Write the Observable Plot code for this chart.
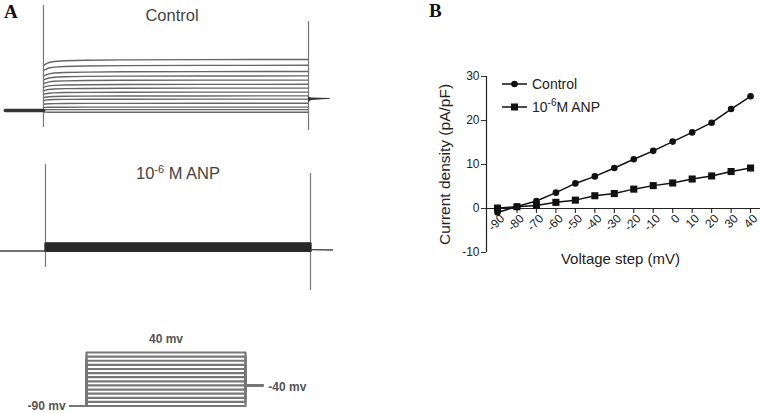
<!DOCTYPE html>
<html><head><meta charset="utf-8">
<script src="https://cdn.jsdelivr.net/npm/d3@7"></script>
<script src="https://cdn.jsdelivr.net/npm/@observablehq/plot@0.6"></script>
<style>
body{margin:0;background:#fff;}
#fig{position:relative;width:762px;height:413px;overflow:hidden;font-family:"Liberation Sans",Arial,sans-serif;color:#333;background:#fff;}
#fig svg{display:block;}
.lbl{position:absolute;white-space:nowrap;}
#fig g[aria-label="y-axis label"] text{font-size:15.5px;fill:#222;}
</style></head><body><div id="fig"></div>
<script>
// ---------- data ----------
const voltages = [-90,-80,-70,-60,-50,-40,-30,-20,-10,0,10,20,30,40];          // mV
const controlDensity = [-0.9,0.45,1.7,3.6,5.7,7.3,9.2,11.2,13.1,15.2,17.3,19.5,22.6,25.5]; // pA/pF
const anpDensity = [0.1,0.4,0.7,1.4,1.9,2.9,3.4,4.4,5.2,5.8,6.7,7.4,8.4,9.2];             // pA/pF
const yTicks = [-10,0,10,20,30];

// raw trace shapes (panel A), time in ms
const activationTime = [0,4,10,20,40,80,150,300,500];
const activationFrac = [0.88,0.91,0.94,0.96,0.975,0.985,0.993,0.998,1];
const pulseTimes = [0,500];
const controlHoldTime = [-72,0];
const controlHoldCurrent = [0,0];
const controlSpikeTop = [52.5,44.5];
const controlSpikeBottom = [-8.5,-10];
const controlTailTime = [500,506,541.5];
const controlTailUpper = [6.8,6.2,6.0];
const controlTailLower = [4.0,5.0,5.6];
const anpHoldTime = [-85,0];
const anpHoldCurrent = [0,0];
const anpSpikeTop = [101.8,91.2];
const anpSpikeBottom = [-19.4,-46.5];
const anpTailTime = [500,541.5];
const anpTailCurrent = [1.6,1.2];

// voltage protocol
const protoHoldV = -90, protoAfterV = -40;
const protoTime = [-50,0,500,553];
const protoLabels = ["-90 mv","40 mv","-40 mv"];

// ---------- helpers ----------
const fig = document.getElementById("fig");
function place(el,left,top){el.style.position="absolute";el.style.left=left+"px";el.style.top=top+"px";fig.appendChild(el);return el;}
function label(html,left,top,css){const d=document.createElement("div");d.className="lbl";d.innerHTML=html;Object.assign(d.style,css||{});return place(d,left,top);}
const baseStyle = {background:"transparent",overflow:"visible",fontFamily:"Liberation Sans, Arial, sans-serif",fontSize:"12px",color:"#333"};

// ---------- panel A: control traces ----------
const controlTraces = [];
voltages.forEach((v,k)=>activationTime.forEach((t,j)=>controlTraces.push({step:v,t,i:controlDensity[k]*activationFrac[j]})));
const controlHold = controlHoldTime.map((t,j)=>({t,i:controlHoldCurrent[j]}));
const controlTail = controlTailTime.map((t,j)=>({t,hi:controlTailUpper[j],lo:controlTailLower[j]}));
const traceX = {domain:[-81.1,560.4],axis:null};

place(Plot.plot({
  width:340,height:135,margin:0,style:baseStyle,
  x:traceX, y:{domain:[-12.5,55],axis:null},
  marks:[
    Plot.line(controlTraces,{x:"t",y:"i",z:"step",stroke:"#666",strokeWidth:1.4}),
    Plot.ruleX(pulseTimes,{x:d=>d,y1:(d,i)=>controlSpikeBottom[i],y2:(d,i)=>controlSpikeTop[i],stroke:"#777",strokeWidth:1.2}),
    Plot.line(controlHold,{x:"t",y:"i",stroke:"#333",strokeWidth:3.5}),
    Plot.areaY(controlTail,{x:"t",y1:"lo",y2:"hi",fill:"#333"})
  ]
}),0,0);

// ---------- panel A: ANP traces ----------
const anpTraces = [];
voltages.forEach((v,k)=>pulseTimes.forEach(t=>anpTraces.push({step:v,t,i:anpDensity[k]})));
const anpHold = anpHoldTime.map((t,j)=>({t,i:anpHoldCurrent[j]}));
const anpTail = anpTailTime.map((t,j)=>({t,i:anpTailCurrent[j]}));
place(Plot.plot({
  width:340,height:155,margin:0,style:baseStyle,
  x:traceX, y:{domain:[-52.4,130],axis:null},
  marks:[
    Plot.ruleX(pulseTimes,{x:d=>d,y1:(d,i)=>anpSpikeBottom[i],y2:(d,i)=>anpSpikeTop[i],stroke:"#777",strokeWidth:1.2}),
    Plot.line(anpTraces,{x:"t",y:"i",z:"step",stroke:"#2a2a2a",strokeWidth:2}),
    Plot.line(anpHold,{x:"t",y:"i",stroke:"#444",strokeWidth:1.6}),
    Plot.line(anpTail,{x:"t",y:"i",stroke:"#444",strokeWidth:1.4})
  ]
}),2,140);

// ---------- panel A: voltage protocol ----------
const protoLines = [];
voltages.forEach(v=>{
  [[protoTime[0],protoHoldV],[protoTime[1],protoHoldV],[protoTime[1],v],[protoTime[2],v],[protoTime[2],protoAfterV],[protoTime[3],protoAfterV]]
    .forEach(([t,vv],j)=>protoLines.push({step:v,t,v:vv,j}));
});
const protoText = [
  {t:protoTime[0],v:protoHoldV,text:protoLabels[0],anchor:"end",dx:-5,dy:0},
  {t:(protoTime[1]+protoTime[2])/2,v:voltages[voltages.length-1],text:protoLabels[1],anchor:"middle",dx:0,dy:-13},
  {t:protoTime[3],v:protoAfterV,text:protoLabels[2],anchor:"start",dx:6,dy:2}
];
place(Plot.plot({
  width:340,height:83,margin:0,style:baseStyle,
  x:{domain:[-270.4,798.7],axis:null}, y:{domain:[-108.2,93.5],axis:null},
  marks:[
    Plot.line(protoLines,{x:"t",y:"v",z:"step",stroke:"#777",strokeWidth:2.2}),
    ...protoText.map(d=>Plot.text([d],{x:"t",y:"v",text:"text",textAnchor:d.anchor,dx:d.dx,dy:d.dy,fontSize:12,fontWeight:"bold",fill:"#555"}))
  ]
}),0,330);

// ---------- panel B ----------
const ivControl = voltages.map((v,k)=>({v,i:controlDensity[k]}));
const ivAnp = voltages.map((v,k)=>({v,i:anpDensity[k]}));
const xDomainB = [-95.65,45.1];
place(Plot.plot({
  width:362,height:300,marginLeft:86,marginRight:2,marginTop:76,marginBottom:48,style:baseStyle,
  x:{domain:xDomainB,axis:null},
  y:{domain:[yTicks[0],yTicks[yTicks.length-1]]},
  marks:[
    Plot.axisY({ticks:yTicks,tickSize:5,tickPadding:2,tickFormat:d=>String(d),fontSize:12,fill:"#222",
      label:"Current density (pA/pF)",labelAnchor:"center",labelArrow:"none",labelOffset:48}),
    Plot.ruleX([xDomainB[0]],{stroke:"#222",strokeWidth:1.2}),
    Plot.ruleY([0],{stroke:"#222",strokeWidth:1.2}),
    Plot.ruleX(voltages,{x:d=>d,y1:0,y2:0,insetBottom:-5,stroke:"#222",strokeWidth:1.1}),
    Plot.text(voltages,{x:d=>d,y:0,text:d=>String(d),rotate:-45,textAnchor:"end",dx:5,dy:8,fontSize:12,fill:"#222"}),
    Plot.text(["Voltage step (mV)"],{frameAnchor:"bottom",dx:-3,dy:11,fontSize:15,fill:"#222"}),
    Plot.line(ivControl,{x:"v",y:"i",stroke:"#111",strokeWidth:1.5}),
    Plot.dot(ivControl,{x:"v",y:"i",r:3.3,fill:"#111",symbol:"circle"}),
    Plot.line(ivAnp,{x:"v",y:"i",stroke:"#111",strokeWidth:1.5}),
    Plot.dot(ivAnp,{x:"v",y:"i",r:4,fill:"#111",symbol:"square"})
  ]
}),400,0);

// legend (panel B)
const leg = d3.create("svg").attr("width",140).attr("height",40).style("overflow","visible");
leg.append("line").attr("x1",0).attr("x2",25).attr("y1",9).attr("y2",9).attr("stroke","#111").attr("stroke-width",1.5);
leg.append("circle").attr("cx",12.5).attr("cy",9).attr("r",3.3).attr("fill","#111");
leg.append("text").attr("x",30).attr("y",14).attr("font-size",14).attr("fill","#222").text("Control");
leg.append("line").attr("x1",0).attr("x2",25).attr("y1",32).attr("y2",32).attr("stroke","#111").attr("stroke-width",1.5);
leg.append("rect").attr("x",9).attr("y",28.5).attr("width",7).attr("height",7).attr("fill","#111");
const t2 = leg.append("text").attr("x",30).attr("y",37).attr("font-size",14).attr("fill","#222");
t2.append("tspan").text("10");
t2.append("tspan").attr("dy",-6).attr("font-size",10).text("-6");
t2.append("tspan").attr("dy",6).text("M ANP");
leg.style("font-family","Liberation Sans, Arial, sans-serif");
place(leg.node(),502,75);

// titles
label("Control",112,5,{width:"120px",textAlign:"center",fontSize:"16.5px",lineHeight:"20px",color:"#444"});
label('10<sup style="font-size:11px;vertical-align:0;position:relative;top:-6px">-6</sup> M ANP',113,163,{width:"130px",textAlign:"center",fontSize:"16.5px",lineHeight:"20px",color:"#444"});
label("A",4,1,{fontFamily:"Liberation Serif, Times New Roman, serif",fontWeight:"bold",fontSize:"19px",lineHeight:"22px",color:"#111"});
label("B",429,0,{fontFamily:"Liberation Serif, Times New Roman, serif",fontWeight:"bold",fontSize:"19px",lineHeight:"22px",color:"#111"});
</script></body></html>
